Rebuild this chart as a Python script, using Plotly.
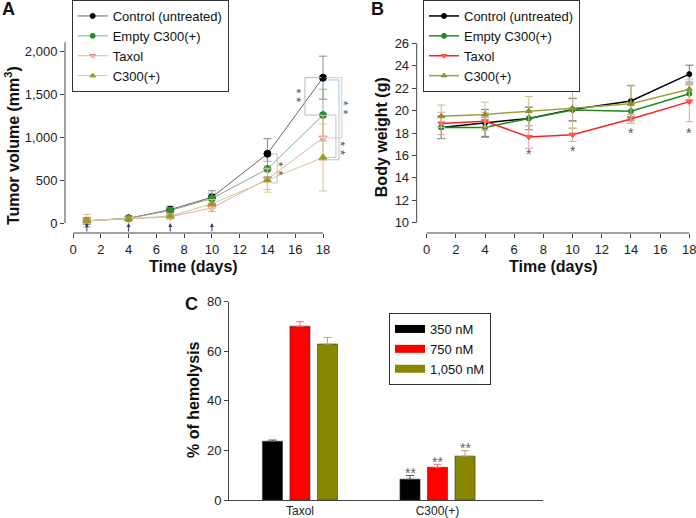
import plotly.graph_objects as go

FONT = "Liberation Sans, Arial, sans-serif"

days = [1, 4, 7, 10, 14, 18]
dose_days = [1, 4, 7, 10]

# Panel A: tumour volume (mm3)
tumor_control = [25, 55, 155, 300, 805, 1690]
tumor_control_err = [40, 15, 40, 75, 175, 250]
tumor_empty = [25, 55, 145, 285, 628, 1255]
tumor_empty_err = [30, 15, 35, 60, 90, 300]
tumor_taxol = [25, 48, 72, 175, 510, 990]
tumor_taxol_err = [30, 15, 25, 40, 120, 260]
tumor_c300 = [25, 50, 80, 222, 498, 762]
tumor_c300_err = [75, 15, 30, 50, 140, 390]

# Panel B: body weight (g)
weight_control = [18.5, 18.9, 19.3, 20.1, 20.85, 23.25]
weight_control_err = [1.0, 1.2, 1.0, 1.0, 1.4, 0.8]
weight_empty = [18.5, 18.5, 19.3, 20.05, 19.95, 21.5]
weight_empty_err = [1.0, 0.9, 1.0, 1.0, 0.8, 0.8]
weight_taxol = [18.85, 19.05, 17.65, 17.85, 19.25, 20.8]
weight_taxol_err = [1.0, 0.8, 1.0, 0.6, 0.4, 1.8]
weight_c300 = [19.5, 19.65, 19.95, 20.2, 20.6, 21.9]
weight_c300_err = [1.0, 1.1, 1.3, 1.8, 1.6, 0.9]
weight_star_days = [7, 10, 14, 18]
weight_star_y = [16.5, 16.75, 18.4, 18.4]

# Panel C: hemolysis (%)
hemo_groups = ["Taxol", "C300(+)"]
hemo_350 = [23.7, 8.4]
hemo_350_err = [0.5, 1.5]
hemo_750 = [70.1, 13.2]
hemo_750_err = [1.8, 1.2]
hemo_1050 = [62.9, 17.7]
hemo_1050_err = [2.7, 2.2]

series_names = ["Control (untreated)", "Empty C300(+)", "Taxol", "C300(+)"]

fig = go.Figure()


def add_series(vals_list, styles, lw, xa, ya, leg):
    for name, (vals, errs), (mc, lc, ec, sym, sz) in zip(series_names, vals_list, styles):
        fig.add_trace(go.Scatter(
            x=days, y=vals, name=name, mode="lines+markers", showlegend=False,
            line=dict(color=lc, width=lw),
            marker=dict(color=mc, symbol=sym, size=sz, line=dict(color=mc, width=1)),
            error_y=dict(type="data", array=errs, color=ec, thickness=1, width=4),
            cliponaxis=False, xaxis=xa, yaxis=ya,
        ))
    # small legend-only samples, like the original key
    for name, (mc, lc, ec, sym, sz) in zip(series_names, styles):
        fig.add_trace(go.Scatter(
            x=[None], y=[None], name=name, mode="lines+markers",
            line=dict(color=lc, width=lw),
            marker=dict(color=mc, symbol=sym, size=5, line=dict(color=mc, width=1)),
            xaxis=xa, yaxis=ya, legend=leg,
        ))


# --- Panel A ---
a_style = [
    ("#000000", "#666666", "#8a8a8a", "circle", 7),
    ("#2e8b2e", "#8aa88a", "#90b090", "circle", 7),
    ("#f08080", "#e8a8a8", "#f0b0b0", "triangle-down-open", 7),
    ("#9a9a20", "#cccc9c", "#d0c890", "triangle-up", 7),
]
a_vals = [(tumor_control, tumor_control_err), (tumor_empty, tumor_empty_err),
          (tumor_taxol, tumor_taxol_err), (tumor_c300, tumor_c300_err)]
add_series(a_vals, a_style, 1, "x", "y", "legend")

# --- Panel B ---
b_style = [
    ("#000000", "#000000", "#777777", "circle", 5),
    ("#1f8a1f", "#1f8a1f", "#8aa88a", "circle", 5),
    ("#ff5050", "#ff2020", "#e8a0a0", "triangle-down", 6),
    ("#8f8f30", "#a0a040", "#c8c090", "triangle-up", 6),
]
b_vals = [(weight_control, weight_control_err), (weight_empty, weight_empty_err),
          (weight_taxol, weight_taxol_err), (weight_c300, weight_c300_err)]
add_series(b_vals, b_style, 1.5, "x2", "y2", "legend2")

# --- Panel C ---
c_series = [("350 nM", hemo_350, hemo_350_err, "#000000", "#555555"),
            ("750 nM", hemo_750, hemo_750_err, "#ff0000", "#e07070"),
            ("1,050 nM", hemo_1050, hemo_1050_err, "#878700", "#b0a870")]
for name, vals, errs, col, ecol in c_series:
    fig.add_trace(go.Bar(
        x=hemo_groups, y=vals, name=name, showlegend=False,
        marker=dict(color=col, line=dict(color="#333333", width=0.6)),
        error_y=dict(type="data", array=errs, arrayminus=[0] * len(errs),
                     symmetric=False, color=ecol, thickness=1, width=4),
        xaxis="x3", yaxis="y3",
    ))
# wide, flat key swatches as in the original
for name, vals, errs, col, ecol in c_series:
    fig.add_trace(go.Scatter(
        x=[None], y=[None], name=name, mode="lines", line=dict(color=col, width=8),
        xaxis="x3", yaxis="y3", legend="legend3",
    ))

axis_common = dict(showgrid=False, zeroline=False, showline=False, ticks="outside",
                   ticklen=4, tickcolor="#444444", automargin=False,
                   ticklabeloverflow="allow", tickfont=dict(size=13, color="#222222"))

shapes = []
annotations = []
spine = dict(color="#444444", width=1)

# spines (offset axes, SigmaPlot style)
shapes.append(dict(type="line", xref="x", yref="y domain", x0=0, x1=18, y0=0, y1=0, line=spine))
shapes.append(dict(type="line", xref="x domain", yref="y", x0=0, x1=0, y0=0, y1=2100, line=spine))
shapes.append(dict(type="line", xref="x2", yref="y2 domain", x0=0, x1=18, y0=0, y1=0, line=spine))
shapes.append(dict(type="line", xref="x2 domain", yref="y2", x0=0, x1=0, y0=10, y1=26, line=spine))


def bracket(x_in, x_out, y_top, y_bot, color):
    for x0, x1, y0, y1 in [(x_in, x_out, y_top, y_top), (x_out, x_out, y_top, y_bot),
                           (x_in, x_out, y_bot, y_bot)]:
        shapes.append(dict(type="line", xref="x", yref="y", x0=x0, x1=x1, y0=y0, y1=y1,
                           line=dict(color=color, width=1)))


bracket(14.3, 14.7, 805, 465, "#b8c8b0")
bracket(17.9, 16.7, 1690, 1255, "#b8b8b8")
bracket(18.2, 19.35, 1690, 990, "#f0c4c4")
bracket(18.2, 19.15, 1663, 735, "#a8c8e0")
bracket(18.2, 18.93, 1255, 762, "#c4c4c4")

# vertically stacked double asterisks next to the brackets
for sx, sy in [(15.02, 635), (16.3, 1478), (19.65, 1340), (19.46, 866)]:
    annotations.append(dict(x=sx, y=sy, xref="x", yref="y", text="* *", textangle=90,
                            showarrow=False, xshift=-3,
                            font=dict(size=13, color="#555555")))

# dosing arrows
for d in dose_days:
    annotations.append(dict(x=d, y=0, xref="x", yref="y", ax=d, ay=-116, axref="x", ayref="y",
                            text="", showarrow=True, arrowhead=2, arrowsize=0.8,
                            arrowwidth=1, arrowcolor="#3a3a70", standoff=0))

for sx, sy in zip(weight_star_days, weight_star_y):
    annotations.append(dict(x=sx, y=sy, xref="x2", yref="y2", text="*", showarrow=False,
                            yshift=-4, font=dict(size=14, color="#555555")))

for sx, sy in [(0.8, 12.5), (1.0, 17.0), (1.2, 22.6)]:
    annotations.append(dict(x=sx, y=sy, xref="x3", yref="y3", text="**", showarrow=False,
                            yshift=-4, font=dict(size=14, color="#666666")))

# axis titles and panel letters
title_font = dict(size=16, color="#111111", family=FONT)
letter_font = dict(size=18, color="#111111", family=FONT)
centred = dict(showarrow=False, xanchor="center", yanchor="middle")
annotations += [
    dict(centred, x=8.7, y=1 - 266 / 518, xref="x", yref="paper",
         text="<b>Time (days)</b>", font=title_font),
    dict(centred, x=12 / 696, y=1 - 146 / 518, xref="paper", yref="paper",
         text="<b>Tumor volume (mm<sup>3</sup>)</b>", textangle=-90, font=title_font),
    dict(centred, x=8.66, y=1 - 266 / 518, xref="x2", yref="paper",
         text="<b>Time (days)</b>", font=title_font),
    dict(centred, x=381.7 / 696, y=1 - 137.5 / 518, xref="paper", yref="paper",
         text="<b>Body weight (g)</b>", textangle=-90, font=title_font),
    dict(centred, x=193 / 696, y=1 - 400 / 518, xref="paper", yref="paper",
         text="<b>% of hemolysis</b>", textangle=-90, font=title_font),
    dict(centred, x=8 / 696, y=1 - 9 / 518, xref="paper", yref="paper",
         text="<b>A</b>", font=letter_font),
    dict(centred, x=377 / 696, y=1 - 9 / 518, xref="paper", yref="paper",
         text="<b>B</b>", font=letter_font),
    dict(centred, x=191.5 / 696, y=1 - 304 / 518, xref="paper", yref="paper",
         text="<b>C</b>", font=letter_font),
]

legend_common = dict(bgcolor="white", bordercolor="#333333", borderwidth=1,
                     font=dict(size=13, color="#111111"), xanchor="left", yanchor="top",
                     itemwidth=30, tracegroupgap=0)

fig.update_layout(
    width=696, height=518,
    margin=dict(l=0, r=0, t=0, b=0),
    paper_bgcolor="white", plot_bgcolor="white",
    font=dict(family=FONT, size=13, color="#111111"),
    showlegend=True,
    barmode="group", bargap=0.4, bargroupgap=0.27,
    xaxis=dict(axis_common, domain=[65 / 696, 350 / 696], range=[-0.576, 19.944],
               tickvals=list(range(0, 19, 2)), anchor="y"),
    yaxis=dict(axis_common, domain=[1 - 233 / 518, 1 - 40 / 518], range=[-116.3, 2127.9],
               tickvals=[0, 500, 1000, 1500, 2000], tickformat=",", anchor="x"),
    xaxis2=dict(axis_common, domain=[416.7 / 696, 695 / 696], range=[-0.685, 18.39],
                tickvals=list(range(0, 19, 2)), anchor="y2"),
    yaxis2=dict(axis_common, domain=[1 - 233 / 518, 1 - 40 / 518], range=[9.081, 26.294],
                tickvals=list(range(10, 27, 2)), anchor="x2"),
    xaxis3=dict(showgrid=False, zeroline=False, showline=True, linecolor="#444444",
                ticks="", automargin=False, domain=[229 / 696, 543 / 696],
                range=[-0.516, 1.767], tickfont=dict(size=12, color="#222222"), anchor="y3"),
    yaxis3=dict(axis_common, showline=True, linecolor="#444444",
                domain=[1 - 500 / 518, 1 - 301.7 / 518], range=[0, 80],
                tickvals=[0, 20, 40, 60, 80], anchor="x3"),
    legend=dict(legend_common, x=71.7 / 696, y=1.0),
    legend2=dict(legend_common, x=423 / 696, y=1.0),
    legend3=dict(legend_common, x=389 / 696, y=1 - 313 / 518),
    shapes=shapes,
    annotations=annotations,
)

# the page's default body margin would shift the 696x518 figure out of the window
fig.write_html("out.html", config={"displayModeBar": False},
               post_script="document.body.style.margin='0px';")
